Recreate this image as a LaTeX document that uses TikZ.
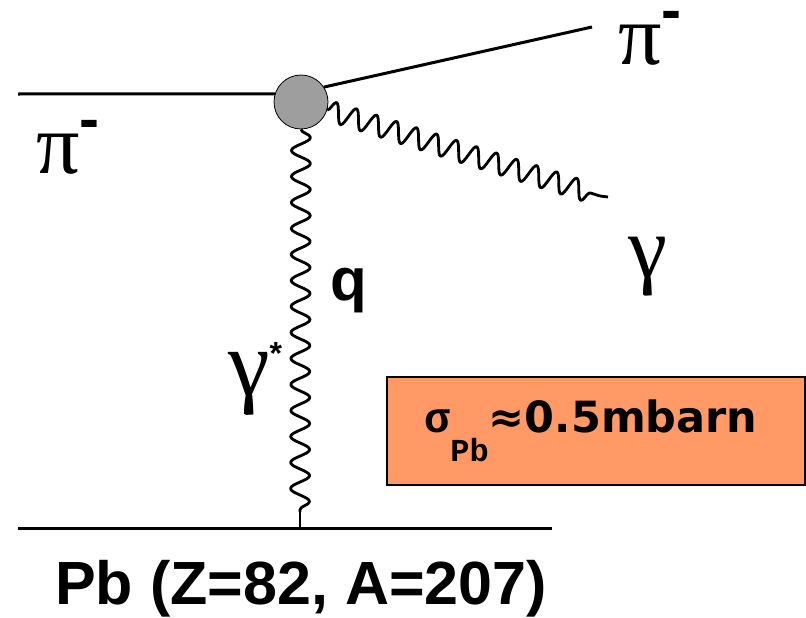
\documentclass[tikz,border=0pt]{standalone}
\usepackage{fontspec}
\setmainfont{Liberation Serif}
\newfontfamily\arialf{Liberation Sans}
\newfontfamily\verdf{DejaVu Sans}
\newfontfamily\courf{Liberation Mono}
\usetikzlibrary{decorations.pathmorphing}
\definecolor{boxorange}{RGB}{255,153,102}
\definecolor{blobgray}{RGB}{158,158,158}
\newcommand{\supminus}[1]{\raisebox{#1}{\arialf\bfseries\fontsize{60}{60}\selectfont -}}
\begin{document}
\begin{tikzpicture}[x=1pt,y=-1pt,
  lep/.style={line width=3pt},
  stub/.style={line width=2.8pt},
  photonv/.style={line width=2.8pt, line join=round, decorate, decoration={snake, segment length=26pt, amplitude=9.5pt}},
  photond/.style={line width=2.8pt, line join=round, decorate, decoration={snake, segment length=21pt, amplitude=10pt}},
  blob/.style={circle, draw, fill=blobgray, minimum size=54pt, inner sep=0pt, line width=0.8pt},
  greek/.style={inner sep=0pt, font=\fontsize{86}{86}\selectfont},
  sanslbl/.style={inner sep=0pt, font=\arialf\bfseries\fontsize{61}{61}\selectfont},
  sbox/.style={draw, line width=1.5pt, fill=boxorange, minimum width=418pt, minimum height=108pt, inner sep=0pt}
]
\useasboundingbox (0,0) rectangle (806,618);
% vertex
\node[blob] (v) at (301,102) {};
% coordinates
\coordinate (pin) at (18,94);
\coordinate (piout) at (592,27);
\coordinate (gend) at (600,196);
\coordinate (gtail) at (608,197);
\coordinate (gbot) at (300,512);
\coordinate (pbm) at (300,528);
\coordinate (pbl) at (18,528);
\coordinate (pbr) at (552,528);
% lines
\draw[lep] (pin) -- (v.163);
\draw[lep] (v.33) -- (piout);
\draw[photond] (v.-17) -- (gend);
\draw[stub] (gend) -- (gtail);
\draw[photonv] (v.south) -- (gbot);
\draw[stub] (gbot) -- (pbm);
\draw[lep] (pbl) -- (pbr);
% labels
\node[greek, anchor=base west] (pil) at (36,173) {π\supminus{34pt}};
\node[greek, anchor=base west] (pir) at (618,64) {π\supminus{33pt}};
\node[greek, anchor=base west, font=\fontsize{88}{88}\selectfont] (gam) at (628,277) {γ};
\node[greek, anchor=base west, font=\fontsize{94}{94}\selectfont] (gst) at (228,395) {γ\raisebox{31pt}{\arialf\bfseries\fontsize{32}{32}\selectfont *}};
\node[sanslbl, anchor=north west, font=\arialf\bfseries\fontsize{60}{60}\selectfont] (q) at (330,268) {q};
\node[sanslbl, anchor=base] (pb) at (301,604) {Pb (Z=82, A=207)};
\node[sbox] (xs) at (596,431) {\verdf\bfseries\fontsize{43}{43}\selectfont {\courf σ}\raisebox{-29pt}{\courf\bfseries\fontsize{32}{32}\selectfont Pb}≈0.5mbarn\hspace*{10pt}};
\end{tikzpicture}
\end{document}
